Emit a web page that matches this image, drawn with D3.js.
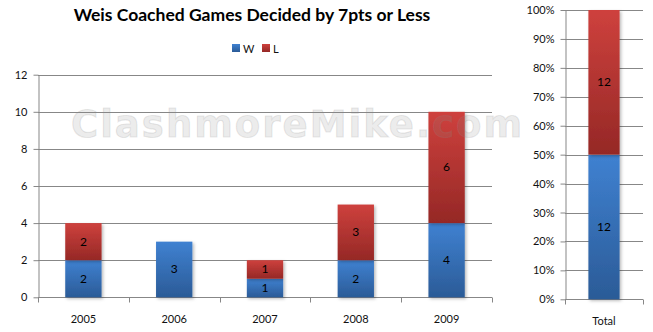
<!DOCTYPE html>
<html>
<head>
<meta charset="utf-8">
<script src="https://cdn.jsdelivr.net/npm/d3@7"></script>
<style>
  html, body { margin: 0; padding: 0; background: #fff; }
  svg { display: block; }
  text { font-family: Lato, "Open Sans", sans-serif; }
</style>
</head>
<body>
<svg id="chart" width="653" height="332"></svg>
<script>
// Close games (decided by 7 points or less) per season
const years = ["2005", "2006", "2007", "2008", "2009"];
const wins = [2, 3, 1, 2, 4];
const losses = [2, 0, 1, 3, 6];
const seriesKeys = ["W", "L"];
const seriesColors = { W: ["#3f81d1", "#2b5b97"], L: ["#ce413d", "#952826"] };
const yTicks = [0, 2, 4, 6, 8, 10, 12];
const totalCategory = ["Total"];
const totalWins = [12];
const totalLosses = [12];
const pctTicks = [0, 0.1, 0.2, 0.3, 0.4, 0.5, 0.6, 0.7, 0.8, 0.9, 1];
const titleText = "Weis Coached Games Decided by 7pts or Less";
const watermarkText = "ClashmoreMike.com";

const svg = d3.select("#chart");
const defs = svg.append("defs");

// Vertical gradient per series, light at the top of each segment
seriesKeys.forEach(k => {
  const g = defs.append("linearGradient")
    .attr("id", "grad-" + k)
    .attr("x1", 0).attr("y1", 0).attr("x2", 0).attr("y2", 1);
  g.append("stop").attr("offset", "0%").attr("stop-color", seriesColors[k][0]);
  g.append("stop").attr("offset", "100%").attr("stop-color", seriesColors[k][1]);
});
const shadow = defs.append("filter").attr("id", "barShadow")
  .attr("x", "-20%").attr("y", "-10%").attr("width", "150%").attr("height", "130%");
shadow.append("feDropShadow")
  .attr("dx", 1.5).attr("dy", 1.5).attr("stdDeviation", 1.5)
  .attr("flood-color", "#000").attr("flood-opacity", 0.28);

const gridColor = "#878787";

// ---------- Left chart: wins / losses by year ----------
const left = { x0: 38, x1: 492, yTop: 74.7, yBottom: 297.3 };

const x = d3.scaleBand().domain(years)
  .range([left.x0, left.x1]).paddingInner(0.6).paddingOuter(0.3);
const y = d3.scaleLinear().domain([0, 12]).range([left.yBottom, left.yTop]);

const rows = years.map((yr, i) => ({ year: yr, W: wins[i], L: losses[i] }));
const stacked = d3.stack().keys(seriesKeys)(rows);

// gridlines
svg.append("g").selectAll("line").data(yTicks.filter(t => t > 0)).join("line")
  .attr("x1", left.x0).attr("x2", left.x1)
  .attr("y1", d => Math.round(y(d)) + 0.5).attr("y2", d => Math.round(y(d)) + 0.5)
  .attr("stroke", gridColor).attr("stroke-width", 1);

// y axis
const yAxis = svg.append("g")
  .attr("transform", `translate(${left.x0 + 0.5},0)`)
  .call(d3.axisLeft(y).tickValues(yTicks).tickSize(5).tickPadding(6).tickSizeOuter(0));
yAxis.select(".domain").attr("stroke", gridColor);
yAxis.selectAll(".tick line").attr("stroke", gridColor);
yAxis.selectAll(".tick text").attr("font-size", 11).attr("fill", "#111")
  .style("font-family", "Lato, sans-serif");

// x axis: ticks at category boundaries
const xAxisG = svg.append("g")
  .attr("transform", `translate(0,${Math.round(left.yBottom) + 0.5})`);
xAxisG.append("line").attr("x1", left.x0).attr("x2", left.x1)
  .attr("stroke", gridColor);
const boundaries = d3.range(years.length + 1).map(i => left.x0 + i * x.step());
xAxisG.selectAll("line.tk").data(boundaries).join("line").attr("class", "tk")
  .attr("x1", d => Math.round(d) + 0.5).attr("x2", d => Math.round(d) + 0.5)
  .attr("y1", 0).attr("y2", 5).attr("stroke", gridColor);
xAxisG.selectAll("text").data(years).join("text")
  .attr("x", d => x(d) + x.bandwidth() / 2).attr("y", 25)
  .attr("text-anchor", "middle").attr("font-size", 11).attr("fill", "#111")
  .text(d => d);

// bars
const barG = svg.append("g");
stacked.forEach(layer => {
  barG.append("g").selectAll("rect").data(layer.filter(d => d[1] - d[0] > 0)).join("rect")
    .attr("x", d => x(d.data.year))
    .attr("width", x.bandwidth())
    .attr("y", d => y(d[1]))
    .attr("height", d => y(d[0]) - y(d[1]))
    .attr("fill", `url(#grad-${layer.key})`)
    .attr("filter", "url(#barShadow)");
});
stacked.forEach(layer => {
  barG.append("g").selectAll("text").data(layer.filter(d => d[1] - d[0] > 0)).join("text")
    .attr("x", d => x(d.data.year) + x.bandwidth() / 2)
    .attr("y", d => (y(d[0]) + y(d[1])) / 2 + 4)
    .attr("text-anchor", "middle").attr("font-size", 12).attr("fill", "#000")
    .text(d => d.data[layer.key]);
});

// ---------- Right chart: 100% stacked total ----------
const right = { x0: 565, x1: 643, yTop: 10, yBottom: 299.3 };
const xr = d3.scaleBand().domain(totalCategory)
  .range([right.x0, right.x1]).paddingInner(0.6).paddingOuter(0.3);
const yr = d3.scaleLinear().domain([0, 1]).range([right.yBottom, right.yTop]);

const totalRows = totalCategory.map((c, i) => ({ cat: c, W: totalWins[i], L: totalLosses[i] }));
const stackedPct = d3.stack().keys(seriesKeys).offset(d3.stackOffsetExpand)(totalRows);

svg.append("g").selectAll("line").data(pctTicks.filter(t => t > 0)).join("line")
  .attr("x1", right.x0).attr("x2", right.x1)
  .attr("y1", d => Math.round(yr(d)) + 0.5).attr("y2", d => Math.round(yr(d)) + 0.5)
  .attr("stroke", gridColor);

const yrAxis = svg.append("g")
  .attr("transform", `translate(${right.x0 + 0.5},0)`)
  .call(d3.axisLeft(yr).tickValues(pctTicks).tickFormat(d3.format(".0%"))
    .tickSize(5).tickPadding(6).tickSizeOuter(0));
yrAxis.select(".domain").attr("stroke", gridColor);
yrAxis.selectAll(".tick line").attr("stroke", gridColor);
yrAxis.selectAll(".tick text").attr("font-size", 11).attr("fill", "#111")
  .style("font-family", "Lato, sans-serif");

const xrAxisG = svg.append("g")
  .attr("transform", `translate(0,${Math.round(right.yBottom) + 0.5})`);
xrAxisG.append("line").attr("x1", right.x0).attr("x2", right.x1).attr("stroke", gridColor);
xrAxisG.selectAll("line.tk").data([right.x0, right.x1]).join("line").attr("class", "tk")
  .attr("x1", d => Math.round(d) + 0.5).attr("x2", d => Math.round(d) + 0.5)
  .attr("y1", 0).attr("y2", 5).attr("stroke", gridColor);
xrAxisG.selectAll("text").data(totalCategory).join("text")
  .attr("x", d => xr(d) + xr.bandwidth() / 2).attr("y", 25)
  .attr("text-anchor", "middle").attr("font-size", 11).attr("fill", "#111")
  .text(d => d);

const barR = svg.append("g");
stackedPct.forEach(layer => {
  barR.append("g").selectAll("rect").data(layer).join("rect")
    .attr("x", d => xr(d.data.cat))
    .attr("width", xr.bandwidth())
    .attr("y", d => yr(d[1]))
    .attr("height", d => yr(d[0]) - yr(d[1]))
    .attr("fill", `url(#grad-${layer.key})`)
    .attr("filter", "url(#barShadow)");
});
stackedPct.forEach(layer => {
  barR.append("g").selectAll("text").data(layer).join("text")
    .attr("x", d => xr(d.data.cat) + xr.bandwidth() / 2)
    .attr("y", d => (yr(d[0]) + yr(d[1])) / 2 + 4)
    .attr("text-anchor", "middle").attr("font-size", 12).attr("fill", "#000")
    .text(d => d.data[layer.key]);
});

// ---------- Watermark ----------
svg.append("text")
  .attr("x", 71).attr("y", 137)
  .attr("textLength", 451).attr("lengthAdjust", "spacing")
  .style("font-family", "'DejaVu Sans', Verdana, sans-serif")
  .attr("font-weight", "bold").attr("font-size", 37)
  .attr("fill", "#8a8a8a").attr("fill-opacity", 0.18)
  .attr("stroke", "#8a8a8a").attr("stroke-opacity", 0.18).attr("stroke-width", 1.2)
  .attr("paint-order", "stroke")
  .text(watermarkText);

// ---------- Title and legend ----------
svg.append("text")
  .attr("x", 252).attr("y", 21)
  .attr("text-anchor", "middle")
  .attr("font-size", 17.5).attr("font-weight", "bold").attr("fill", "#000")
  .text(titleText);

const legend = svg.append("g").attr("transform", "translate(232,44)");
const legendItems = legend.selectAll("g").data(seriesKeys).join("g")
  .attr("transform", (d, i) => `translate(${i * 30},0)`);
legendItems.append("rect").attr("width", 8).attr("height", 8)
  .attr("fill", d => `url(#grad-${d})`);
legendItems.append("text").attr("x", 11).attr("y", 8.5)
  .attr("font-size", 11).attr("fill", "#111").text(d => d);
</script>
</body>
</html>
